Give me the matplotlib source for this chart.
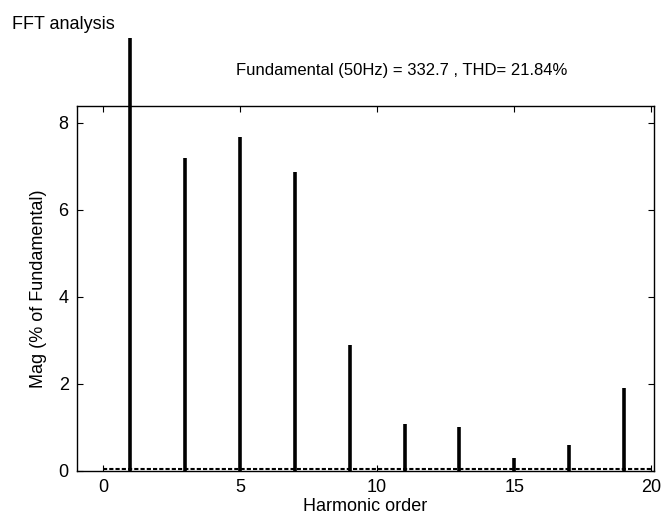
import matplotlib.pyplot as plt
import numpy as np

# harmonic spectrum, % of fundamental
orders = [1, 3, 5, 7, 9, 11, 13, 15, 17, 19]
mag = [100, 7.2, 7.68, 6.87, 2.9, 1.08, 1.0, 0.3, 0.6, 1.9]
xticks = [0, 5, 10, 15, 20]
yticks = [0, 2, 4, 6, 8]
title = "Fundamental (50Hz) = 332.7 , THD= 21.84%"

plt.rcParams['font.family'] = ['Liberation Sans', 'DejaVu Sans']

fig = plt.figure(figsize=(6.64, 5.31), dpi=100)
ax = fig.add_axes([0.116, 0.113, 0.869, 0.687])

# the fundamental runs out of the box, cut it off like the original
top = np.minimum(mag, 9.95)
ax.vlines(orders, 0, top, color="black", linewidth=2.6, clip_on=False)
ax.plot([0, 20], [0.04, 0.04], color="black", linestyle=(0, (2, 1)), linewidth=1.5)

ax.set_xlim(-0.95, 20.1)
ax.set_ylim(0, 8.38)
ax.set_xticks(xticks)
ax.set_yticks(yticks)
ax.tick_params(direction="in", top=True, right=True, length=4, labelsize=13, pad=6)
for s in ax.spines.values():
    s.set_linewidth(1.0)

ax.set_xlabel("Harmonic order", fontsize=13, labelpad=1)
ax.set_ylabel("Mag (% of Fundamental)", fontsize=13, labelpad=8)
fig.text(0.605, 0.868, title, fontsize=12, ha="center", va="center")
fig.text(0.018, 0.945, "FFT analysis", fontsize=13)

fig.savefig("out.png", dpi=100)
